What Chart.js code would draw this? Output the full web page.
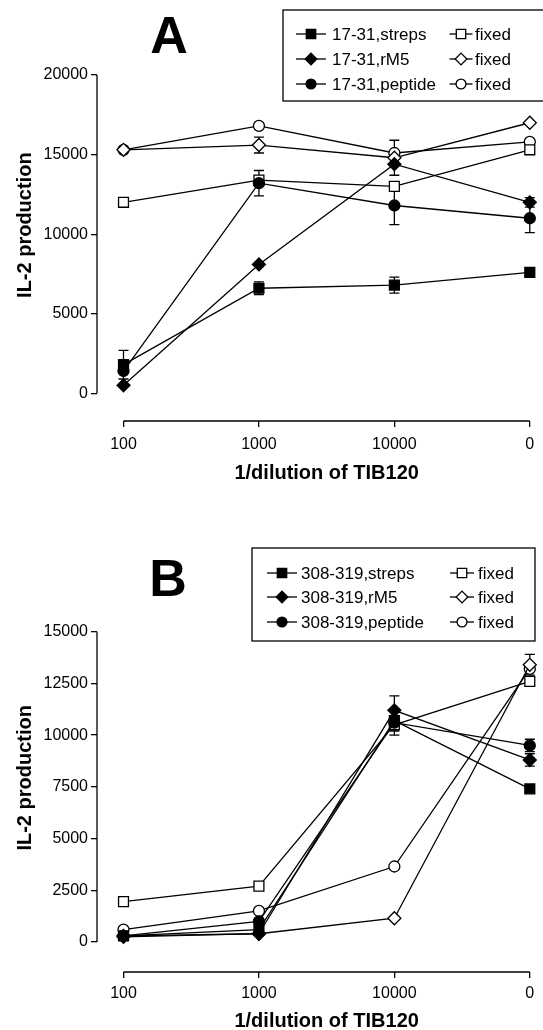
<!DOCTYPE html>
<html lang="en">
<head>
<meta charset="UTF-8">
<title>IL-2 production vs 1/dilution of TIB120</title>
<script src="https://cdn.jsdelivr.net/npm/chart.js"></script>
<style>
    body { margin: 0; background: #fff; }
    .panel { position: absolute; left: 0; width: 543px; height: 515px; }
    #panelA { top: 0; }
    #panelB { top: 515px; }
</style>
</head>
<body>
<div class="panel" id="panelA"><canvas id="chartA" width="543" height="515"></canvas></div>
<div class="panel" id="panelB"><canvas id="chartB" width="543" height="515"></canvas></div>
<script>
// x categories and titles
const dilutions = ['100', '1000', '10000', '0'];
const xTitle = '1/dilution of TIB120';
const yTitle = 'IL-2 production';

// panel A - 17-31
const namesA = ['17-31,streps', '17-31,rM5', '17-31,peptide', 'fixed', 'fixed', 'fixed'];
const yTicksA = [0, 5000, 10000, 15000, 20000];
const strepsA = [1800, 6600, 6800, 7600];
const rm5A = [500, 8100, 14400, 12000];
const peptideA = [1400, 13200, 11800, 11000];
const fixedStrepsA = [12000, 13400, 13000, 15300];
const fixedRm5A = [15300, 15600, 14800, 17000];
const fixedPeptideA = [15300, 16800, 15100, 15800];
// error bars (+/-) for panel A
const errStrepsA = [900, 400, 500, 0];
const errRm5A = [0, 0, 0, 300];
const errPeptideA = [0, 800, 1200, 900];
const errFixedStrepsA = [0, 0, 0, 0];
const errFixedRm5A = [0, 500, 1100, 0];
const errFixedPeptideA = [0, 0, 0, 0];

// panel B - 308-319
const namesB = ['308-319,streps', '308-319,rM5', '308-319,peptide', 'fixed', 'fixed', 'fixed'];
const yTicksB = [0, 2500, 5000, 7500, 10000, 12500, 15000];
const strepsB = [300, 600, 10700, 7400];
const rm5B = [250, 400, 11200, 8800];
const peptideB = [300, 1000, 10600, 9500];
const fixedStrepsB = [1950, 2700, 10500, 12600];
const fixedRm5B = [300, 400, 1150, 13400];
const fixedPeptideB = [600, 1500, 3650, 13200];
const errStrepsB = [0, 0, 500, 0];
const errRm5B = [0, 0, 700, 300];
const errPeptideB = [0, 0, 600, 300];
const errFixedStrepsB = [0, 0, 0, 0];
const errFixedRm5B = [0, 0, 0, 500];
const errFixedPeptideB = [0, 0, 0, 0];

const FONT = "'Liberation Sans', Arial, sans-serif";
const shapes = ['rect', 'rectRot', 'circle'];
const radii = { rect: 7, rectRot: 6.5, circle: 5.5 };

function makeDatasets(names, series, errors) {
    return series.map((vals, i) => {
        const shape = shapes[i % 3];
        const open = i >= 3;
        return {
            label: names[i],
            data: vals.map((v, j) => ({ x: j, y: v })),
            errors: errors[i],
            borderColor: '#000',
            borderWidth: 1.3,
            pointStyle: shape,
            pointRadius: radii[shape],
            pointHoverRadius: radii[shape],
            pointBackgroundColor: open ? '#fff' : '#000',
            pointBorderColor: '#000',
            pointBorderWidth: 1.3,
            fill: false,
            tension: 0,
            clip: false
        };
    });
}

function drawMarker(ctx, shape, r, x, y, open) {
    ctx.beginPath();
    if (shape === 'rect') {
        const s = r * Math.SQRT1_2;
        ctx.rect(x - s, y - s, 2 * s, 2 * s);
    } else if (shape === 'rectRot') {
        ctx.moveTo(x, y - r);
        ctx.lineTo(x + r, y);
        ctx.lineTo(x, y + r);
        ctx.lineTo(x - r, y);
        ctx.closePath();
    } else {
        ctx.arc(x, y, r, 0, Math.PI * 2);
    }
    ctx.fillStyle = open ? '#fff' : '#000';
    ctx.fill();
    ctx.stroke();
}

// axis lines, error bars, titles, panel letter and boxed legend
const prismPlugin = {
    id: 'prism',
    beforeDatasetsDraw(chart, args, opts) {
        const { ctx } = chart;
        const xs = chart.scales.x, ys = chart.scales.y;
        ctx.save();
        ctx.strokeStyle = '#000';
        ctx.lineWidth = 1.3;
        // y axis only from 0 to top tick
        ctx.beginPath();
        ctx.moveTo(ys.right, ys.getPixelForValue(0));
        ctx.lineTo(ys.right, ys.getPixelForValue(opts.yMax));
        ctx.stroke();
        // x axis from first to last category
        ctx.beginPath();
        ctx.moveTo(xs.getPixelForValue(0), xs.top);
        ctx.lineTo(xs.getPixelForValue(dilutions.length - 1), xs.top);
        ctx.stroke();
        // error bars
        chart.data.datasets.forEach(ds => {
            ds.data.forEach((p, j) => {
                const e = ds.errors[j];
                if (!e) return;
                const px = xs.getPixelForValue(p.x);
                const y1 = ys.getPixelForValue(p.y + e);
                const y2 = ys.getPixelForValue(p.y - e);
                ctx.beginPath();
                ctx.moveTo(px, y1); ctx.lineTo(px, y2);
                ctx.moveTo(px - 5, y1); ctx.lineTo(px + 5, y1);
                ctx.moveTo(px - 5, y2); ctx.lineTo(px + 5, y2);
                ctx.stroke();
            });
        });
        ctx.restore();
    },
    afterDraw(chart, args, opts) {
        const { ctx } = chart;
        const xs = chart.scales.x, ys = chart.scales.y;
        ctx.save();
        ctx.fillStyle = '#000';
        ctx.strokeStyle = '#000';
        ctx.lineWidth = 1.3;
        // x title
        ctx.font = 'bold 20px ' + FONT;
        ctx.textAlign = 'center';
        ctx.textBaseline = 'middle';
        const xMid = (xs.getPixelForValue(0) + xs.getPixelForValue(dilutions.length - 1)) / 2;
        ctx.fillText(xTitle, xMid + opts.xTitleShift, xs.top + opts.xTitleGap);
        // y title
        const yMid = (ys.getPixelForValue(0) + ys.getPixelForValue(opts.yMax)) / 2 + opts.yTitleShift;
        ctx.save();
        ctx.translate(25, yMid);
        ctx.rotate(-Math.PI / 2);
        ctx.fillText(yTitle, 0, 0);
        ctx.restore();
        // panel letter
        ctx.font = 'bold 52px ' + FONT;
        ctx.fillText(opts.letter, opts.letterX, opts.letterY);
        // legend box
        const lg = opts.legend;
        ctx.fillStyle = '#fff';
        ctx.fillRect(lg.box[0], lg.box[1], lg.box[2] - lg.box[0], lg.box[3] - lg.box[1]);
        ctx.strokeRect(lg.box[0], lg.box[1], lg.box[2] - lg.box[0], lg.box[3] - lg.box[1]);
        ctx.font = '17px ' + FONT;
        ctx.textAlign = 'left';
        chart.data.datasets.forEach((ds, i) => {
            const col = lg.cols[i < 3 ? 0 : 1];
            const ry = lg.rows[i % 3];
            ctx.beginPath();
            ctx.moveTo(col.cx - col.half, ry);
            ctx.lineTo(col.cx + col.half, ry);
            ctx.stroke();
            drawMarker(ctx, ds.pointStyle, ds.pointRadius * (ds.pointStyle === 'rect' ? 0.95 : 0.9), col.cx, ry, i >= 3);
            ctx.fillStyle = '#000';
            ctx.fillText(ds.label, col.tx, ry + 1);
        });
        ctx.restore();
    }
};

function makeChart(id, names, series, errors, yTicks, yMin, cfg) {
    return new Chart(document.getElementById(id), {
        type: 'line',
        data: { datasets: makeDatasets(names, series, errors) },
        options: {
            responsive: false,
            animation: false,
            layout: { padding: { top: cfg.padTop, left: 0, right: 0, bottom: 0 } },
            plugins: {
                legend: { display: false },
                tooltip: { enabled: false },
                prism: cfg.prism
            },
            scales: {
                x: {
                    type: 'linear',
                    min: -0.1957,
                    max: 3.0362,
                    afterBuildTicks: s => { s.ticks = dilutions.map((_, i) => ({ value: i })); },
                    afterFit: s => { s.height = cfg.xHeight; },
                    grid: { drawOnChartArea: false, drawTicks: true, tickLength: 6, color: '#000', lineWidth: 1.3 },
                    border: { display: false },
                    ticks: {
                        callback: v => dilutions[v],
                        color: '#000',
                        font: { family: FONT, size: 16 },
                        padding: cfg.xTickPad,
                        maxRotation: 0,
                        autoSkip: false
                    }
                },
                y: {
                    type: 'linear',
                    min: yMin,
                    max: yTicks[yTicks.length - 1],
                    afterBuildTicks: s => { s.ticks = yTicks.map(v => ({ value: v })); },
                    afterFit: s => { s.width = 97; },
                    grid: { drawOnChartArea: false, drawTicks: true, tickLength: 6, color: '#000', lineWidth: 1.3 },
                    border: { display: false },
                    ticks: {
                        callback: v => String(v),
                        color: '#000',
                        font: { family: FONT, size: 16 },
                        padding: 3
                    }
                }
            }
        },
        plugins: [prismPlugin]
    });
}

makeChart('chartA', namesA,
    [strepsA, rm5A, peptideA, fixedStrepsA, fixedRm5A, fixedPeptideA],
    [errStrepsA, errRm5A, errPeptideA, errFixedStrepsA, errFixedRm5A, errFixedPeptideA],
    yTicksA, -1740, {
        padTop: 75,
        xHeight: 94,
        xTickPad: 8,
        prism: {
            yMax: 20000,
            xTitleGap: 52,
            xTitleShift: 0,
            yTitleShift: -9,
            letter: 'A', letterX: 169, letterY: 39,
            legend: {
                box: [283, 10, 560, 101],
                rows: [34, 59, 84],
                cols: [{ cx: 311, half: 15, tx: 332 }, { cx: 461, half: 11.5, tx: 475 }]
            }
        }
    });

makeChart('chartB', namesB,
    [strepsB, rm5B, peptideB, fixedStrepsB, fixedRm5B, fixedPeptideB],
    [errStrepsB, errRm5B, errPeptideB, errFixedStrepsB, errFixedRm5B, errFixedPeptideB],
    yTicksB, -1450, {
        padTop: 116.7,
        xHeight: 58,
        xTickPad: 6,
        prism: {
            yMax: 15000,
            xTitleGap: 49,
            xTitleShift: 0,
            yTitleShift: -9,
            letter: 'B', letterX: 168, letterY: 67,
            legend: {
                box: [252, 33, 535, 126],
                rows: [58, 82, 107],
                cols: [{ cx: 282, half: 15, tx: 301 }, { cx: 462, half: 12, tx: 478 }]
            }
        }
    });
</script>
</body>
</html>
